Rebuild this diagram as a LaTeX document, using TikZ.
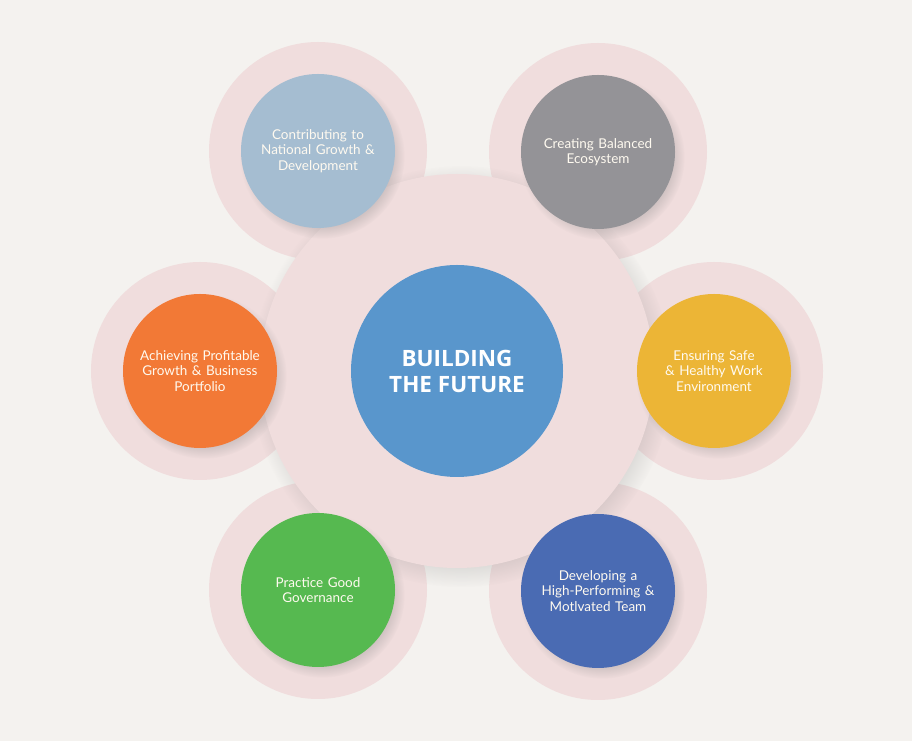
\documentclass[tikz,border=0pt]{standalone}
\usepackage{fontspec}
\setmainfont{Lato}
\newfontfamily\headf{Open Sans}
\usetikzlibrary{shadows,fadings}
\definecolor{bg}{RGB}{244,242,239}
\definecolor{halocol}{RGB}{240,221,221}
\definecolor{cTL}{RGB}{165,189,209}
\definecolor{cTR}{RGB}{148,147,151}
\definecolor{cL}{RGB}{242,121,54}
\definecolor{cR}{RGB}{236,181,54}
\definecolor{cBL}{RGB}{86,185,80}
\definecolor{cBR}{RGB}{74,107,179}
\definecolor{cC}{RGB}{89,150,204}
\definecolor{txt}{RGB}{255,250,240}
\begin{document}
\begin{tikzpicture}[x=1pt,y=1pt,
  halo/.style={circle,fill=halocol,minimum size=218pt,inner sep=0pt},
  softshadow/.style={circular drop shadow={shadow xshift=4pt,shadow yshift=-5pt,shadow scale=1.07,opacity=0.28}},
  item/.style={circle,minimum size=154pt,inner sep=0pt,text=txt,align=center,
    font=\fontsize{13.5}{15.5}\selectfont,text width=140pt,softshadow},
  hub/.style={circle,fill=halocol,minimum size=394pt,inner sep=0pt,softshadow},
  core/.style={circle,fill=cC,minimum size=212pt,inner sep=0pt,text=white,align=center,
    font=\headf\bfseries\fontsize{22.5}{26}\selectfont}
]
\fill[bg] (0,0) rectangle (912,741);
\useasboundingbox (0,0) rectangle (912,741);
% halos
\node[halo] (hTL) at (318,590) {};
\node[halo] (hTR) at (598,589) {};
\node[halo] (hL)  at (200,370) {};
\node[halo] (hR)  at (714,370) {};
\node[halo] (hBL) at (318,151) {};
\node[halo] (hBR) at (598,150) {};
% hub
\node[hub] (hub) at (457,370) {};
% items
\node[item,fill=cTL] (TL) at (318,590) {Contributing to\\National Growth \&\\Development};
\node[item,fill=cTR] (TR) at (598,589) {Creating Balanced\\Ecosystem\\[3pt]};
\node[item,fill=cL]  (L)  at (200,370) {Achieving Profitable\\Growth \& Business\\Portfolio};
\node[item,fill=cR]  (R)  at (714,370) {Ensuring Safe\\\& Healthy Work\\Environment};
\node[item,fill=cBL] (BL) at (318,151) {Practice Good\\Governance};
\node[item,fill=cBR] (BR) at (598,150) {Developing a\\High-Performing \&\\Motlvated Team};
% core
\node[core] (C) at (457,370) {BUILDING\\THE FUTURE};
\end{tikzpicture}
\end{document}
